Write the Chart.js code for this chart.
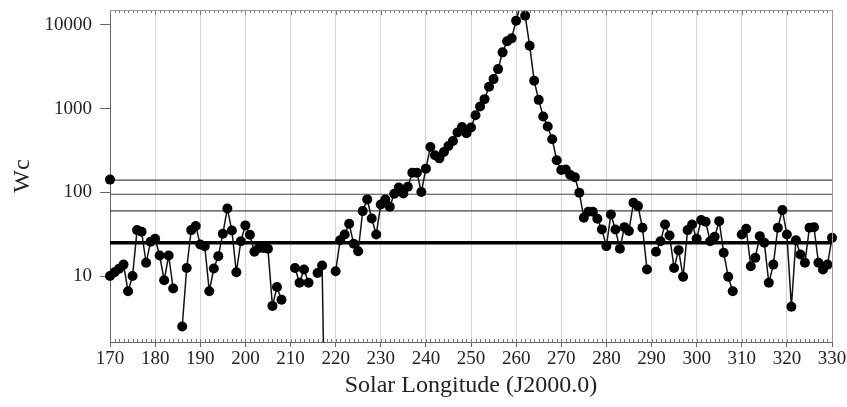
<!DOCTYPE html>
<html>
<head>
<meta charset="utf-8">
<script src="https://cdn.jsdelivr.net/npm/chart.js@4"></script>
<style>
	body { margin: 0; background: #fff; }
	canvas { display: block; }
</style>
</head>
<body>
<canvas id="chart-wc" width="847" height="407"></canvas>
<script>
// longitudes solares (J2000.0), un punto por grado
const longitudes = [
	170,171,172,173,174,175,176,177,178,179,
	180,181,182,183,184,185,186,187,188,189,
	190,191,192,193,194,195,196,197,198,199,
	200,201,202,203,204,205,206,207,208,209,
	210,211,212,213,214,215,216,217,218,219,
	220,221,222,223,224,225,226,227,228,229,
	230,231,232,233,234,235,236,237,238,239,
	240,241,242,243,244,245,246,247,248,249,
	250,251,252,253,254,255,256,257,258,259,
	260,261,262,263,264,265,266,267,268,269,
	270,271,272,273,274,275,276,277,278,279,
	280,281,282,283,284,285,286,287,288,289,
	290,291,292,293,294,295,296,297,298,299,
	300,301,302,303,304,305,306,307,308,309,
	310,311,312,313,314,315,316,317,318,319,
	320,321,322,323,324,325,326,327,328,329,
	330
];
// Wc (null = sin dato)
const wc = [
	10, 11.1, 12.2, 13.7, 6.6, 10, 35.4, 33.8, 14.4, 25.7,
	27.9, 17.6, 8.9, 17.6, 7.1, null, 2.5, 12.5, 35.4, 39.6,
	23.8, 22.7, 6.6, 12.3, 17.3, 32, 64.3, 35, 11.1, 26.1,
	40.3, 31.1, 19.5, 21.7, 21.7, 21.2, 4.4, 7.4, 5.2, null,
	null, 12.5, 8.3, 12, 8.3, null, 10.9, 13.4, 0.01, null,
	11.4, 26.8, 31.4, 42.2, 24.3, 19.8, 59.7, 82.4, 48.8, 31.4,
	71.8, 82, 67.4, 96.4, 114, 97, 117, 172, 172, 101,
	192, 349, 277, 255, 304, 359, 411, 519, 605, 509,
	596, 836, 1062, 1300, 1825, 2255, 2970, 4710, 6380, 6920,
	11250, 18000, 12900, 5650, 2152, 1275, 806, 612, 432, 242,
	185, 187, 161, 152, 99, 49.8, 58.7, 58.7, 48.4, 36.1,
	22.8, 54.5, 36, 21.2, 38.4, 34.5, 75.2, 68.5, 37.8, 12,
	null, 19.5, 26.1, 41.4, 30.5, 12.5, 20.4, 9.8, 35.4, 41.4,
	27.9, 46.6, 44.6, 26.1, 29.4, 45.3, 19, 9.8, 6.6, null,
	31.4, 36.7, 13.1, 16.5, 30, 25, 8.3, 13.7, 37.8, 61.4,
	31.4, 4.3, 26.8, 18.1, 14.4, 37.8, 38.4, 14.4, 12, 13.7,
	28.6
];
// punto aislado en 170
const extraLon = [170];
const extraWc = [142];
// lineas horizontales de referencia
const thinLevels = [140, 95, 60];
const thickLevel = 25;
const yTicks = [10, 100, 1000, 10000];

const serif = "'Liberation Serif', 'Times New Roman', serif";

function hline(level, width, color) {
	return {
		type: "line",
		data: [{ x: 170, y: level }, { x: 330, y: level }],
		borderColor: color,
		borderWidth: width,
		pointRadius: 0,
		order: 2,
	};
}

// ticks menores en los bordes superior e inferior
const minorTicks = {
	id: "minorTicks",
	afterDraw(chart) {
		const c = chart.ctx;
		const a = chart.chartArea;
		const xs = chart.scales.x;
		c.save();
		c.strokeStyle = "#777";
		c.lineWidth = 1;
		c.beginPath();
		for (let v = 170; v <= 330; v++) {
			const px = Math.round(xs.getPixelForValue(v)) + 0.5;
			const len = v % 10 === 0 ? 5 : 3;
			c.moveTo(px, a.top);
			c.lineTo(px, a.top + len);
			c.moveTo(px, a.bottom);
			c.lineTo(px, a.bottom - 3);
		}
		c.stroke();
		c.strokeStyle = "#999";
		c.beginPath();
		c.moveTo(a.left, a.top + 0.5);
		c.lineTo(a.right + 0.5, a.top + 0.5);
		c.lineTo(a.right + 0.5, a.bottom);
		c.stroke();
		c.restore();
	},
};

const ctx = document.getElementById("chart-wc").getContext("2d");
let wcChart = new Chart(ctx, {
	type: "line",
	data: {
		datasets: [
			{
				label: "Wc",
				data: longitudes.map((x, i) => ({ x: x, y: wc[i] })),
				borderColor: "#111",
				borderWidth: 1.5,
				backgroundColor: "#000",
				pointRadius: 5,
				pointBorderWidth: 0,
				spanGaps: false,
				clip: { left: 8, right: 8, top: 0, bottom: 0 },
				order: 0,
			},
			{
				label: "extra",
				data: extraLon.map((x, i) => ({ x: x, y: extraWc[i] })),
				showLine: false,
				backgroundColor: "#000",
				borderColor: "#000",
				pointRadius: 5,
				pointBorderWidth: 0,
				clip: { left: 8, right: 8, top: 0, bottom: 0 },
				order: 0,
			},
			hline(thinLevels[0], 1.2, "#444"),
			hline(thinLevels[1], 1.2, "#444"),
			hline(thinLevels[2], 1.2, "#444"),
			hline(thickLevel, 3.5, "#000"),
		],
	},
	options: {
		responsive: false,
		animation: false,
		devicePixelRatio: 1,
		layout: { padding: { top: 10, right: 15, left: 0, bottom: 0 } },
		plugins: {
			legend: { display: false },
			tooltip: { enabled: false },
		},
		scales: {
			x: {
				type: "linear",
				min: 170,
				max: 330,
				ticks: {
					stepSize: 10,
					padding: 1,
					color: "#222",
					font: { family: serif, size: 19 },
					maxRotation: 0,
				},
				grid: {
					color: "#d6d6d6",
					lineWidth: 1,
					tickColor: "#666",
					tickLength: 5,
				},
				border: { color: "#666", width: 1 },
				title: {
					display: true,
					text: "Solar Longitude (J2000.0)",
					color: "#222",
					font: { family: serif, size: 24 },
					padding: { top: 0, bottom: 7 },
				},
				afterFit(scale) {
					scale.height = 65;
					scale.paddingLeft = 0;
					scale.paddingRight = 0;
				},
			},
			y: {
				type: "logarithmic",
				min: 1.63,
				max: 15100,
				afterBuildTicks(scale) {
					scale.ticks = yTicks.map(v => ({ value: v }));
				},
				ticks: {
					padding: 8,
					color: "#222",
					font: { family: serif, size: 19 },
					callback: v => String(v),
				},
				grid: {
					drawOnChartArea: false,
					tickColor: "#666",
					tickLength: 10,
				},
				border: { color: "#666", width: 1 },
				title: {
					display: true,
					text: "Wc",
					color: "#222",
					font: { family: serif, size: 24 },
					padding: { top: 8, bottom: 0 },
				},
				afterFit(scale) {
					scale.width = 110;
					scale.paddingTop = 0;
					scale.paddingBottom = 0;
				},
			},
		},
	},
	plugins: [minorTicks],
});
</script>
</body>
</html>
